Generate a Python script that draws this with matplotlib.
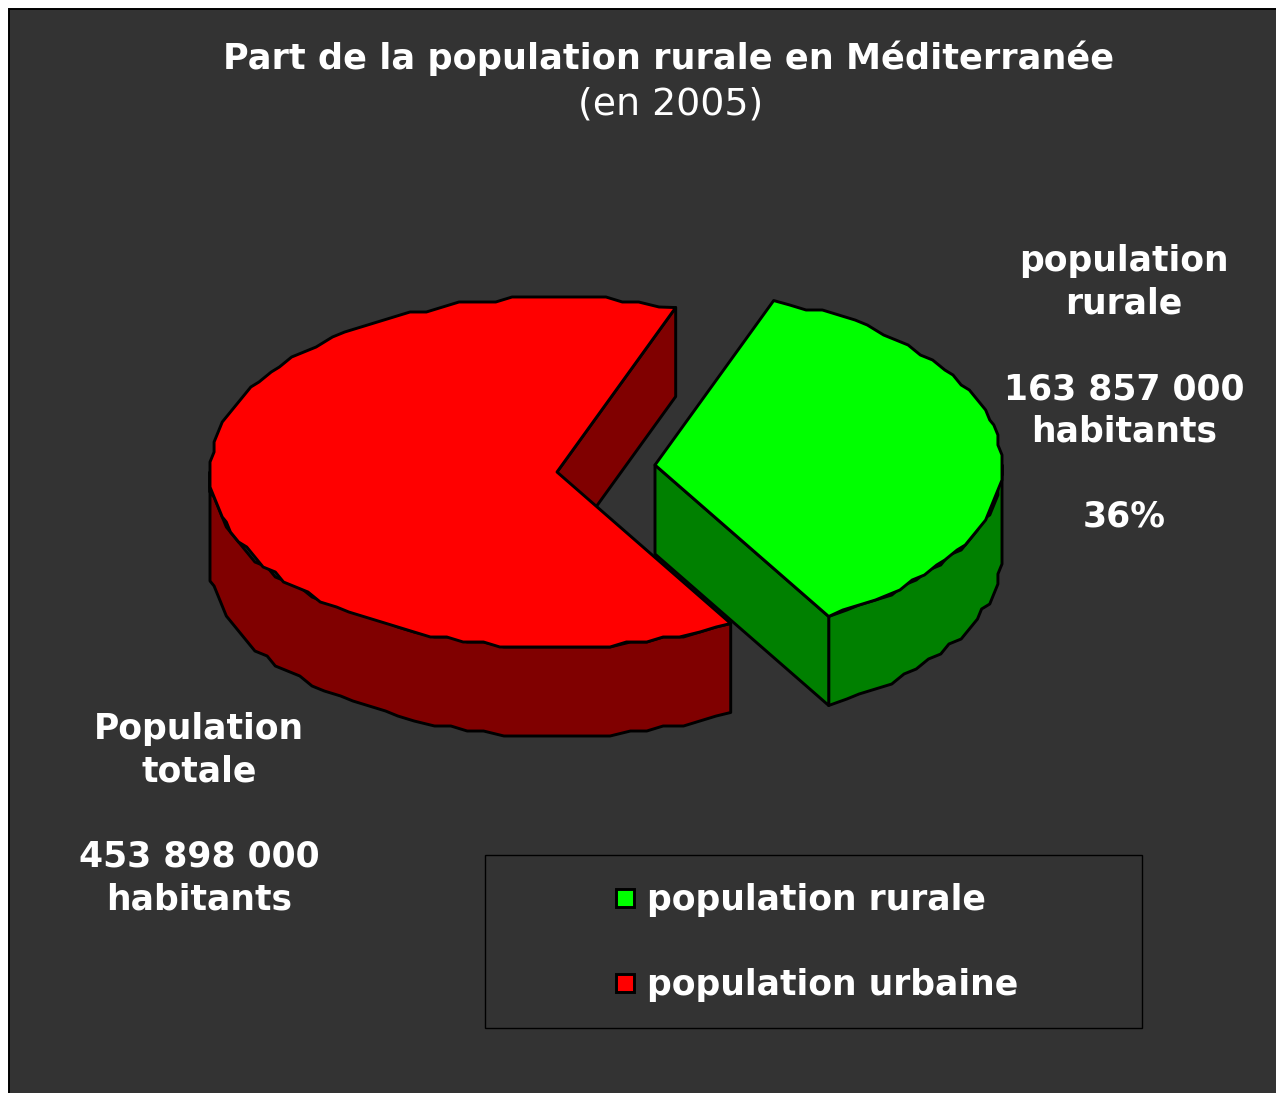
import matplotlib
matplotlib.use('Agg')
import matplotlib.pyplot as plt
from matplotlib.patches import Polygon, Rectangle
import numpy as np

# Data
title = 'Part de la population rurale en Méditerranée'
subtitle = '(en 2005)'
population_totale = 453898000
population_rurale = 163857000
categories = ['population rurale', 'population urbaine']
right_label = ['population', 'rurale', '', '163 857 000', 'habitants', '', '36%']
left_label = ['Population', 'totale', '', '453 898 000', 'habitants']

# Colors
BG = '#333333'
RED, RED_DARK = '#ff0000', '#800000'
GREEN, GREEN_DARK = '#00ff00', '#008000'

# Pie geometry, in image pixels
CX, CY = 557, 472
RX, RY = 347, 175
DEPTH = 89
EXPLODE = (98, -7)
START = 70  # degrees, where the rural slice starts
LW = 2.1
LABEL_SIZE = 24.9

rural_span = 360 * population_rurale / population_totale


def rim(a0, a1, cx, cy, step=3.0):
    """Points on the ellipse, snapped to a coarse grid so the edge looks rough."""
    n = max(int(abs(a1 - a0) / step), 1)
    t = np.radians(np.linspace(a0, a1, n + 1))
    dx = RX * np.cos(t)
    dy = -RY * np.sin(t)
    gx, gy = RX / 85, RY / 35
    xs = cx + np.round(dx / gx) * gx
    ys = cy + np.round(dy / gy) * gy
    xs[[0, -1]] = cx + dx[[0, -1]]
    ys[[0, -1]] = cy + dy[[0, -1]]
    return np.column_stack([xs, ys])


def add_poly(ax, pts, color):
    ax.add_patch(Polygon(pts, closed=True, facecolor=color, edgecolor='black',
                         linewidth=LW, joinstyle='round'))


fig = plt.figure(figsize=(12.76, 10.93), dpi=100, facecolor='white')
ax = fig.add_axes([0, 0, 1, 1])
ax.set_xlim(0, 1276)
ax.set_ylim(1093, 0)
ax.axis('off')

# dark panel, runs off the right and bottom edges
ax.add_patch(Rectangle((9, 9), 1300, 1120, facecolor=BG, edgecolor='black', linewidth=1.4))

end = START - rural_span  # rural slice goes clockwise from START to end
down = np.array([0, DEPTH])

# urban slice: inner wall, outer wall, then top
apex = np.array([CX, CY], dtype=float)
edge_start = rim(START, START, CX, CY)[0]
add_poly(ax, [apex, edge_start, edge_start + down, apex + down], RED_DARK)
front = rim(180, 360 + end, CX, CY)
add_poly(ax, np.vstack([front, (front + down)[::-1]]), RED_DARK)
add_poly(ax, np.vstack([[apex], rim(START, 360 + end, CX, CY)]), RED)

# rural slice, pulled out
gx, gy = CX + EXPLODE[0], CY + EXPLODE[1]
g_apex = np.array([gx, gy], dtype=float)
g_front = rim(end, 0, gx, gy)
add_poly(ax, np.vstack([g_front, (g_front + down)[::-1]]), GREEN_DARK)
g_end = g_front[0]
add_poly(ax, [g_apex, g_end, g_end + down, g_apex + down], GREEN_DARK)
add_poly(ax, np.vstack([[g_apex], rim(START, end, gx, gy)]), GREEN)

# Title
ax.text(669, 58, title, color='white', fontsize=25.3, fontweight='bold', ha='center', va='center')
ax.text(671, 105, subtitle, color='white', fontsize=27.3, ha='center', va='center')

# Slice labels
for i, line in enumerate(right_label):
    ax.text(1124, 261.5 + i * 42.5, line, color='white', fontsize=LABEL_SIZE, fontweight='bold',
            ha='center', va='center')
for i, line in enumerate(left_label):
    ax.text(199, 728.5 + i * 42.7, line, color='white', fontsize=LABEL_SIZE, fontweight='bold',
            ha='center', va='center')

# Legend box
ax.add_patch(Rectangle((485, 855), 657, 173, facecolor=BG, edgecolor='black', linewidth=1.0))
for label, color, y in zip(categories, [GREEN, RED], [897.5, 982.5]):
    ax.add_patch(Rectangle((615.5, y - 9), 18, 18, facecolor=color, edgecolor='black', linewidth=LW))
    ax.text(647, y + 2.5, label, color='white', fontsize=LABEL_SIZE, fontweight='bold',
            ha='left', va='center')

fig.savefig('out.png', dpi=100, facecolor='white')
